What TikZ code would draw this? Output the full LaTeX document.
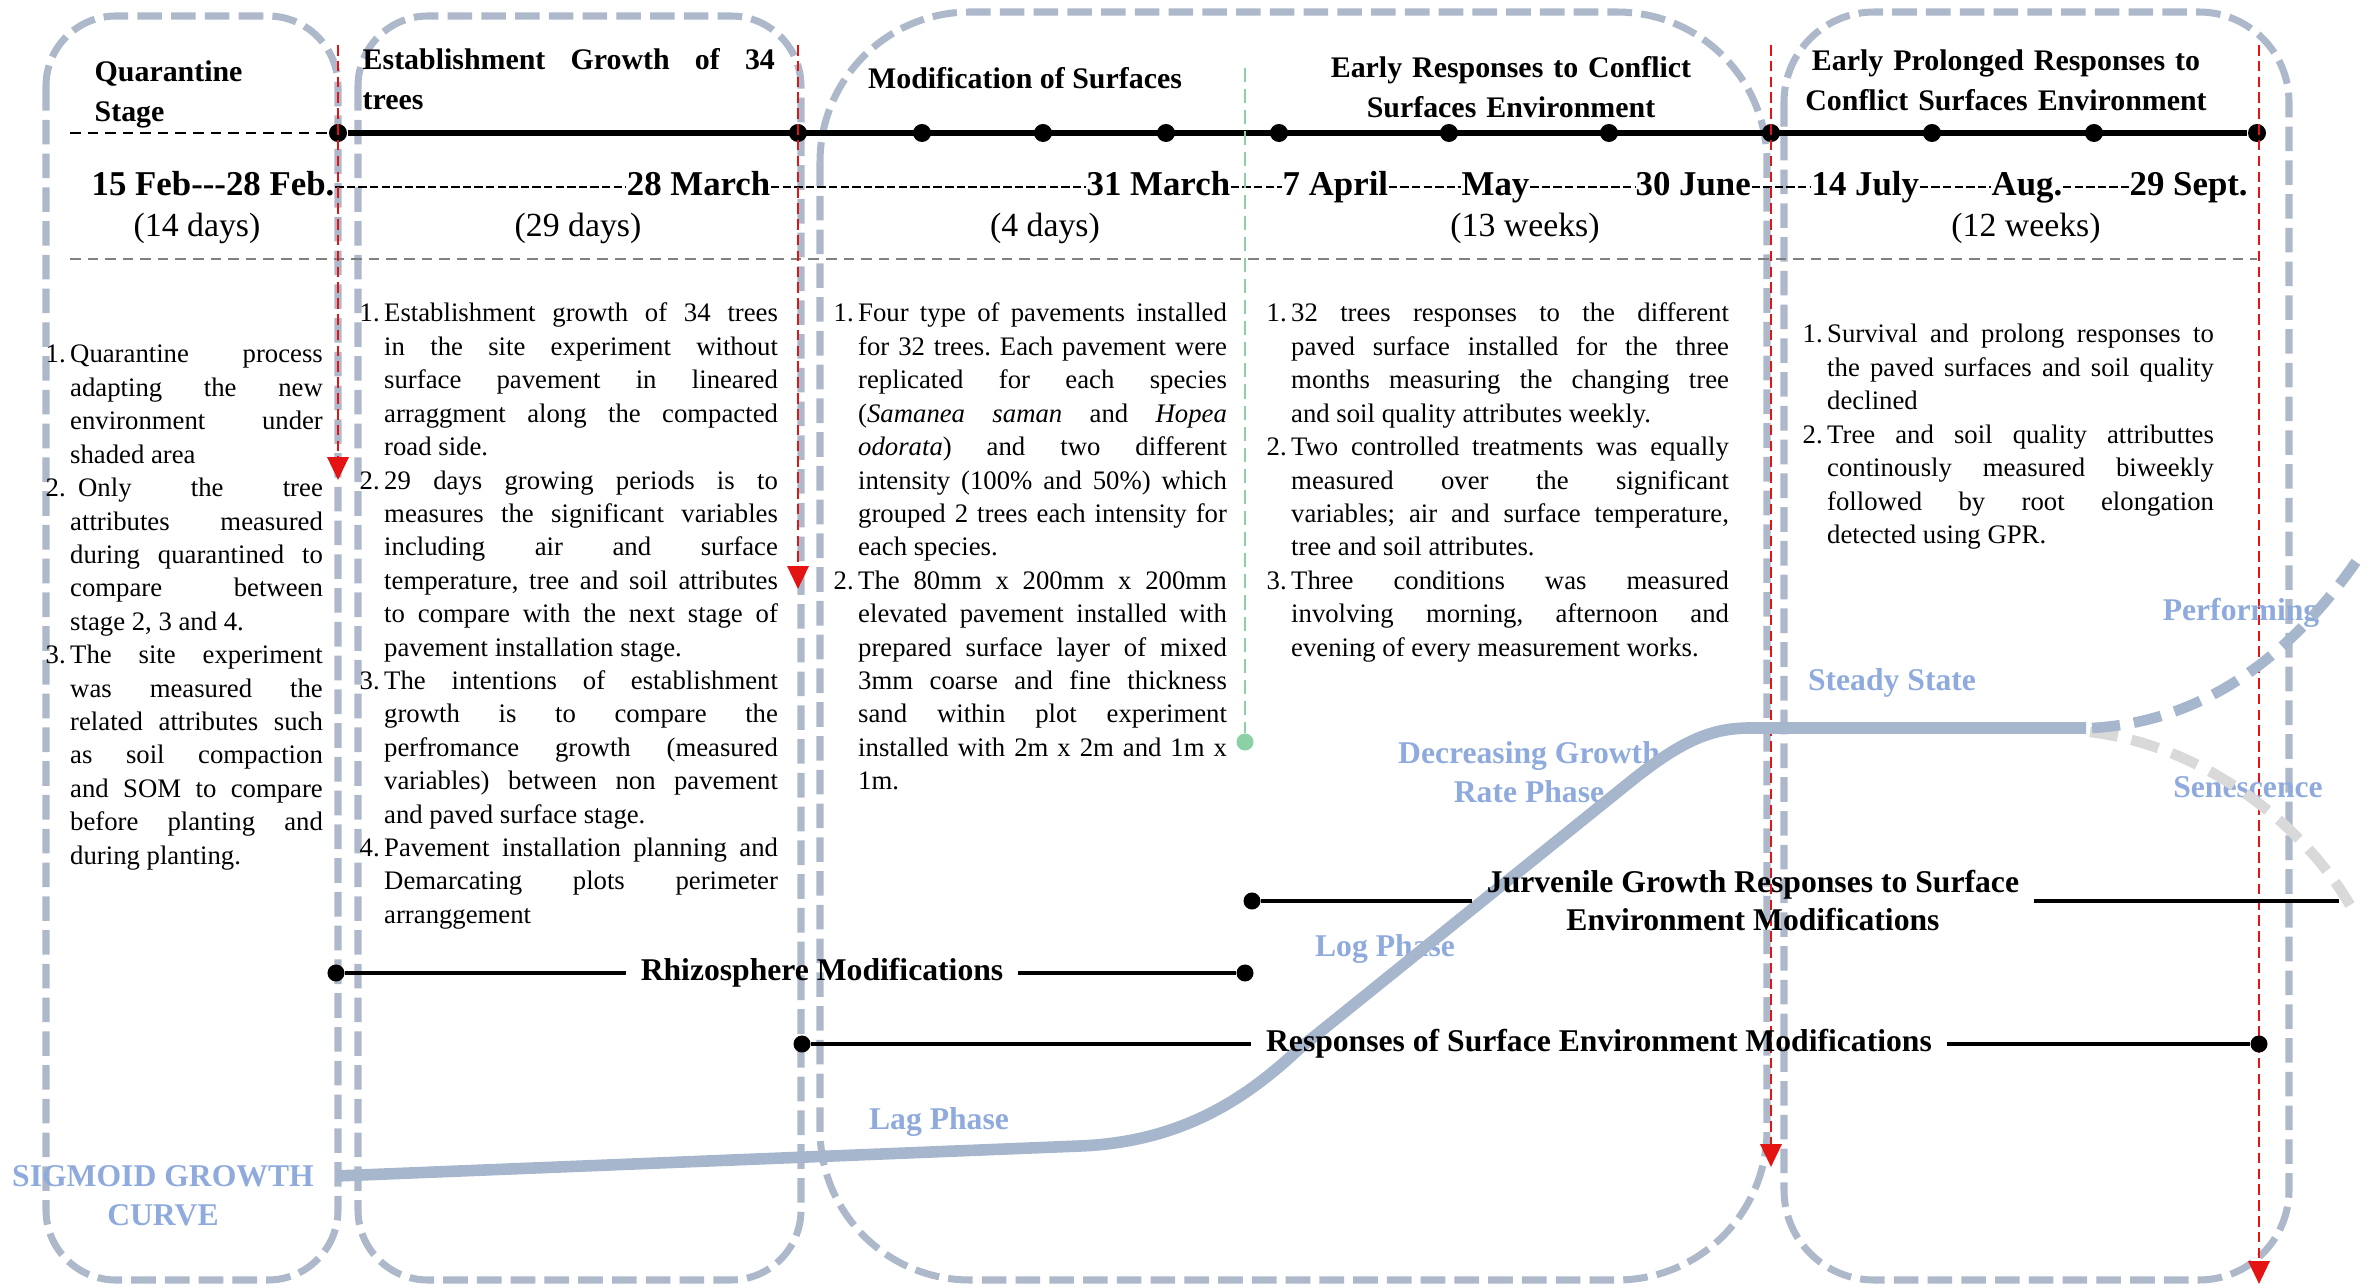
\documentclass[tikz,border=0pt]{standalone}
\usepackage{fontspec}
\setmainfont{Liberation Serif}
\usetikzlibrary{arrows.meta}
\definecolor{boxgray}{RGB}{173,185,202}
\definecolor{curveblue}{RGB}{166,182,204}
\definecolor{senegray}{RGB}{217,217,217}
\definecolor{phaseblue}{RGB}{143,170,220}
\definecolor{arrowred}{RGB}{228,20,20}
\definecolor{guidegreen}{RGB}{140,208,165}
\definecolor{sepgray}{RGB}{128,128,128}
\newlength\numw
\setlength\numw{0.245cm}
\newcommand\itm[1]{\hangindent=\numw\hangafter=1\noindent\makebox[\numw][l]{#1}\ignorespaces}
\tolerance=10000
\hbadness=10000
\frenchspacing
\tikzset{
  stagebox/.style={draw=boxgray,line width=2pt,dash pattern=on 7pt off 2.6pt},
  timeline/.style={line width=1.5pt},
  tdot/.style={circle,fill=black,inner sep=0pt,minimum size=0.18cm},
  title/.style={font=\fontsize{8.5}{11.1}\selectfont\bfseries,inner sep=0pt},
  datelbl/.style={font=\fontsize{9.9}{11}\selectfont\bfseries,inner sep=0pt},
  datedash/.style={line width=0.55pt,dash pattern=on 2.4pt off 0.9pt},
  days/.style={font=\fontsize{9.6}{11}\selectfont,inner sep=0pt,anchor=base},
  body/.style={font=\fontsize{7.6}{9.5}\selectfont\frenchspacing,inner sep=0pt,anchor=base west,align=justify},
  redarrow/.style={draw=arrowred,line width=0.8pt,dash pattern=on 3pt off 1.5pt,-{Triangle[length=6.5pt,width=6pt]}},
  barline/.style={line width=1.4pt},
  barlbl/.style={font=\fontsize{9}{10.8}\selectfont\bfseries,inner xsep=4pt,inner ysep=0pt,align=center},
  phase/.style={font=\fontsize{9}{11}\selectfont\bfseries,text=phaseblue,inner sep=0pt,align=center},
  sigmoid/.style={draw=curveblue,line width=3.3pt},
  branch/.style={line width=3pt,dash pattern=on 8pt off 4pt}
}
\begin{document}
\begin{tikzpicture}[x=0.01cm,y=-0.01cm]
  \useasboundingbox (0,0) rectangle (2374,1288);
  % stage frames
  \draw[stagebox,rounded corners=0.7cm] (46,16) rectangle (338,1280);
  \draw[stagebox,rounded corners=0.7cm] (358,16) rectangle (801,1280);
  \draw[stagebox,rounded corners=1.5cm] (820,12) rectangle (1767,1280);
  \draw[stagebox,rounded corners=0.9cm] (1784,12) rectangle (2289,1280);

  % timeline
  \coordinate (tl0) at (70,133);
  \foreach \x [count=\i] in {338,798,922,1043,1166,1279,1449,1609,1771,1932,2094,2257}
    \node[tdot] (t\i) at (\x,133) {};
  \draw[line width=0.8pt,dash pattern=on 3pt off 2pt] (tl0) -- (t1);
  \draw[timeline] (t1) -- (t12);

  % dates
  \node[datelbl,anchor=base west] (dA) at (91,196) {15 Feb-{}-{}-28 Feb.};
  \node[datelbl,anchor=base east] (dB) at (771,196) {28 March};
  \node[datelbl,anchor=base west] (dC) at (1086,196) {31 March};
  \node[datelbl,anchor=base west] (dD) at (1282,196) {7 April};
  \node[datelbl,anchor=base west] (dE) at (1461,196) {May};
  \node[datelbl,anchor=base west] (dF) at (1635,196) {30 June};
  \node[datelbl,anchor=base west] (dG) at (1811,196) {14 July};
  \node[datelbl,anchor=base west] (dH) at (1991,196) {Aug.};
  \node[datelbl,anchor=base west] (dI) at (2129,196) {29 Sept.};
  \foreach \a/\b in {dA/dB,dB/dC,dC/dD,dD/dE,dE/dF,dF/dG,dG/dH,dH/dI}
    \draw[datedash] ([yshift=2.5pt]\a.base east) -- ([yshift=2.5pt]\b.base west);
  \node[days] (yA) at (197,237) {(14 days)};
  \node[days] (yB) at (578,237) {(29 days)};
  \node[days] (yC) at (1045,237) {(4 days)};
  \node[days] (yD) at (1525,237) {(13 weeks)};
  \node[days] (yE) at (2026,237) {(12 weeks)};
  \coordinate (sepL) at (70,259);
  \coordinate (sepR) at (2257,259);
  \draw[sepgray,line width=0.8pt,dash pattern=on 3pt off 2pt] (sepL) -- (sepR);

  % stage titles
  \node[title,anchor=base west,text width=2.2cm,align=left] (tQ) at (94,82) {Quarantine\\Stage};
  \node[title,anchor=base west,text width=4.12cm,align=justify] (tE) at (362,70) {Establishment Growth of 34\linebreak trees\par};
  \node[title,anchor=base] (tM) at (1025,89) {Modification of Surfaces};
  \node[title,anchor=base,text width=4.4cm,align=center] (tR) at (1511,78) {Early Responses to Conflict\\Surfaces Environment};
  \node[title,anchor=base,text width=4.4cm,align=center] (tP) at (2006,71) {Early Prolonged Responses to\\Conflict Surfaces Environment};

  % stage limits
  \foreach \n/\x/\y in {1/338/480,2/798/589,3/1771/1167,4/2259/1284} {
    \coordinate (ra\n) at (\x,45);
    \coordinate (rb\n) at (\x,\y);
    \draw[redarrow] (ra\n) -- (rb\n);
  }
  \coordinate (gTop) at (1245,68);
  \node[circle,fill=guidegreen,inner sep=0pt,minimum size=0.17cm] (gEnd) at (1245,742) {};
  \draw[guidegreen,line width=0.6pt,dash pattern=on 4pt off 2pt] (gTop) -- (gEnd);

  % growth phases
  \node[phase] (sgc) at (163,1196) {SIGMOID GROWTH\\CURVE};
  \node[phase] (lag) at (939,1122) {Lag Phase};
  \node[phase] (logp) at (1385,949) {Log Phase};
  \node[phase] (dec) at (1529,772) {Decreasing Growth\\Rate Phase};
  \node[phase] (sst) at (1892,683) {Steady State};
  \node[phase] (perf) at (2241,613) {Performing};
  \node[phase] (sen) at (2248,787) {Senescence};
  \draw[sigmoid] (336,1176) -- (1080,1146) .. controls (1180,1142) and (1245,1100) .. (1300,1048)
    -- (1630,782) .. controls (1680,742) and (1710,728) .. (1750,728) -- (2086,728);
  \draw[branch,senegray] (2090,732) .. controls (2200,745) and (2300,820) .. (2350,905);
  \draw[branch,curveblue] (2092,728) .. controls (2200,722) and (2290,660) .. (2362,553);

  % treatment bars
  \node[tdot,minimum size=0.17cm] (rzL) at (336,973) {};
  \node[barlbl] (rzT) at (822,973) {Rhizosphere Modifications};
  \node[tdot,minimum size=0.17cm] (rzR) at (1245,973) {};
  \draw[barline] (rzL) -- (rzT);
  \draw[barline] (rzT) -- (rzR);
  \node[tdot,minimum size=0.17cm] (jvL) at (1252,901) {};
  \node[barlbl] (jvT) at (1753,901) {Jurvenile Growth Responses to Surface\\Environment Modifications};
  \coordinate (jvR) at (2339,901);
  \draw[barline] (jvL) -- (jvT);
  \draw[barline] (jvT) -- (jvR);
  \node[tdot,minimum size=0.17cm] (rsL) at (802,1044) {};
  \node[barlbl] (rsT) at (1599,1044) {Responses of Surface Environment Modifications};
  \node[tdot,minimum size=0.17cm] (rsR) at (2259,1044) {};
  \draw[barline] (rsL) -- (rsT);
  \draw[barline] (rsT) -- (rsR);

  % stage notes
  \node[body,text width=2.77cm] (c1) at (45,363) {%
    \itm{1.}Quarantine process\linebreak adapting the new\linebreak environment under\linebreak shaded area\par
    \itm{2.}\hspace{0.08cm}Only the tree\linebreak attributes measured\linebreak during quarantined to\linebreak compare between\linebreak stage 2, 3 and 4.\par
    \itm{3.}The site experiment\linebreak was measured the\linebreak related attributes such\linebreak as soil compaction\linebreak and SOM to compare\linebreak before planting and\linebreak during planting.\par};
  \node[body,text width=4.18cm] (c2) at (359,322) {%
    \itm{1.}Establishment growth of 34 trees\linebreak in the site experiment without\linebreak surface pavement in lineared\linebreak arraggment along the compacted\linebreak road side.\par
    \itm{2.}29 days growing periods is to\linebreak measures the significant variables\linebreak including air and surface\linebreak temperature, tree and soil attributes\linebreak to compare with the next stage of\linebreak pavement installation stage.\par
    \itm{3.}The intentions of establishment\linebreak growth is to compare the\linebreak perfromance growth (measured\linebreak variables) between non pavement\linebreak and paved surface stage.\par
    \itm{4.}Pavement installation planning and\linebreak Demarcating plots perimeter\linebreak arranggement\par};
  \node[body,text width=3.93cm] (c3) at (833,322) {%
    \itm{1.}Four type of pavements installed\linebreak for 32 trees. Each pavement were\linebreak replicated for each species\linebreak (\textit{Samanea saman} and \textit{Hopea}\linebreak \textit{odorata}) and two different\linebreak intensity (100\% and 50\%) which\linebreak grouped 2 trees each intensity for\linebreak each species.\par
    \itm{2.}The 80mm x 200mm x 200mm\linebreak elevated pavement installed with\linebreak prepared surface layer of mixed\linebreak 3mm coarse and fine thickness\linebreak sand within plot experiment\linebreak installed with 2m x 2m and 1m x\linebreak 1m.\par};
  \node[body,text width=4.62cm] (c4) at (1266,322) {%
    \itm{1.}32 trees responses to the different\linebreak paved surface installed for the three\linebreak months measuring the changing tree\linebreak and soil quality attributes weekly.\par
    \itm{2.}Two controlled treatments was equally\linebreak measured over the significant\linebreak variables; air and surface temperature,\linebreak tree and soil attributes.\par
    \itm{3.}Three conditions was measured\linebreak involving morning, afternoon and\linebreak evening of every measurement works.\par};
  \node[body,text width=4.11cm] (c5) at (1802,343) {%
    \itm{1.}Survival and prolong responses to\linebreak the paved surfaces and soil quality\linebreak declined\par
    \itm{2.}Tree and soil quality attributtes\linebreak continously measured biweekly\linebreak followed by root elongation\linebreak detected using GPR.\par};
\end{tikzpicture}
\end{document}
